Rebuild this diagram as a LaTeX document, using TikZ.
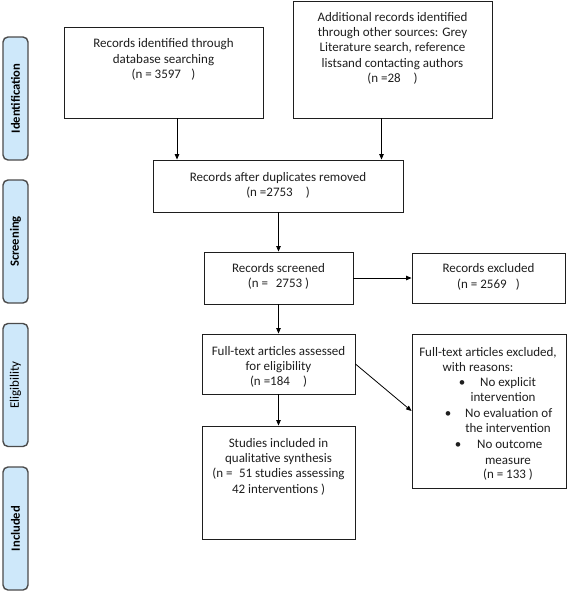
\documentclass[tikz,border=0pt]{standalone}
\usepackage{fontspec}
\setmainfont{Carlito}
\usetikzlibrary{arrows.meta}
\definecolor{sidefill}{RGB}{206,232,250}
\definecolor{sideline}{RGB}{75,75,75}
\definecolor{ink}{RGB}{30,30,30}
\tikzset{
  box/.style={draw=ink, line width=0.9pt, inner sep=0pt},
  txt/.style={align=center, inner sep=0pt, anchor=north, text=ink,
    font=\fontsize{13}{15.3}\selectfont},
  ltxt/.style={inner sep=0pt, anchor=base, text=ink,
    font=\fontsize{13}{15.3}\selectfont},
  lwtxt/.style={ltxt, anchor=base west},
  side/.style={draw=sideline, fill=sidefill, line width=1.4pt,
    rounded corners=5pt, inner sep=0pt, minimum width=25pt, minimum height=123pt},
  sidetxt/.style={rotate=90, inner sep=0pt, text=black,
    font=\fontsize{13}{15}\selectfont},
  sidebold/.style={sidetxt, font=\fontsize{12.6}{15}\selectfont\bfseries},
  arr/.style={-{Triangle[length=5.5pt,width=4.5pt]}, line width=0.8pt, draw=black}
}
\begin{document}
\begin{tikzpicture}[x=1pt,y=-1pt]
\useasboundingbox (0,0) rectangle (567,592);

% phase side bars
\node[side] (s1) at (15.5,98.5) {};
\node[side] (s2) at (15.5,241.5) {};
\node[side] (s3) at (15.5,385) {};
\node[side] (s4) at (15.5,528.5) {};
\node[sidebold] at (s1) {Identification};
\node[sidebold] at (s2) {Screening};
\node[sidetxt] at (s3) {Eligibility};
\node[sidebold] at (s4) {Included};

% boxes
\node[box, minimum width=199pt, minimum height=91pt] (b1) at (163.5,72.5) {};
\node[box, minimum width=199pt, minimum height=117pt] (b2) at (392.5,59.5) {};
\node[box, minimum width=250pt, minimum height=52pt] (b3) at (278,186) {};
\node[box, minimum width=149pt, minimum height=52pt] (b4) at (278.5,278) {};
\node[box, minimum width=153pt, minimum height=50pt] (b5) at (488.5,278) {};
\node[box, minimum width=153pt, minimum height=60pt] (b6) at (278.5,364) {};
\node[box, minimum width=153pt, minimum height=113pt] (b7) at (278.5,482.5) {};
\node[box, minimum width=154pt, minimum height=154pt] (b8) at (489,411) {};

% box texts
\node[txt] at ([yshift=-12pt]b1.north) {Records identified through\\database searching\\(n = 3597\hspace{0.8em})};
\node[txt] at ([yshift=-11.5pt]b2.north) {Additional records identified\\through other sources: Grey\\Literature search, reference\\listsand contacting authors\\(n =28\hspace{1em})};
\node[txt] at ([yshift=-12.5pt]b3.north) {Records after duplicates removed\\(n =2753\hspace{1em})};
\node[txt] at ([yshift=-11.5pt]b4.north) {Records screened\\(n =\hspace{0.6em}2753 )};
\node[txt] at ([yshift=-11pt]b5.north) {Records excluded\\(n = 2569\hspace{0.7em})};
\node[txt] at ([yshift=-12.5pt]b6.north) {Full-text articles assessed\\for eligibility\\(n =184\hspace{1em})};
\node[txt] at ([yshift=-12.5pt]b7.north) {Studies included in\\qualitative synthesis\\(n =\hspace{0.5em}51 studies assessing\\42 interventions )};

\node[ltxt] at (488,356) {Full-text articles excluded,};
\node[ltxt] at (478,371) {with reasons:};
\node[ltxt] at (462,386) {\textbullet};
\node[lwtxt] at (480,386) {No explicit};
\node[ltxt] at (503,401) {intervention};
\node[ltxt] at (448,417) {\textbullet};
\node[lwtxt] at (465,417) {No evaluation of};
\node[ltxt] at (508,432) {the intervention};
\node[ltxt] at (458,448) {\textbullet};
\node[lwtxt] at (477,448) {No outcome};
\node[ltxt] at (508,464) {measure};
\node[ltxt] at (508,478) {(n = 133 )};

% connectors
\coordinate (a1) at (177,0);
\coordinate (a2) at (381.5,0);
\draw[arr] (b1.south -| a1) -- (b3.north -| a1);
\draw[arr] (b2.south -| a2) -- (b3.north -| a2);
\draw[arr] (b3.south -| b4.north) -- (b4.north);
\draw[arr] (b4.east) -- (b5.west);
\draw[arr] (b4.south) -- (b6.north);
\draw[arr] (b6.south) -- (b7.north);
\draw[arr] (b6.east) -- (b8.west);
\end{tikzpicture}
\end{document}
